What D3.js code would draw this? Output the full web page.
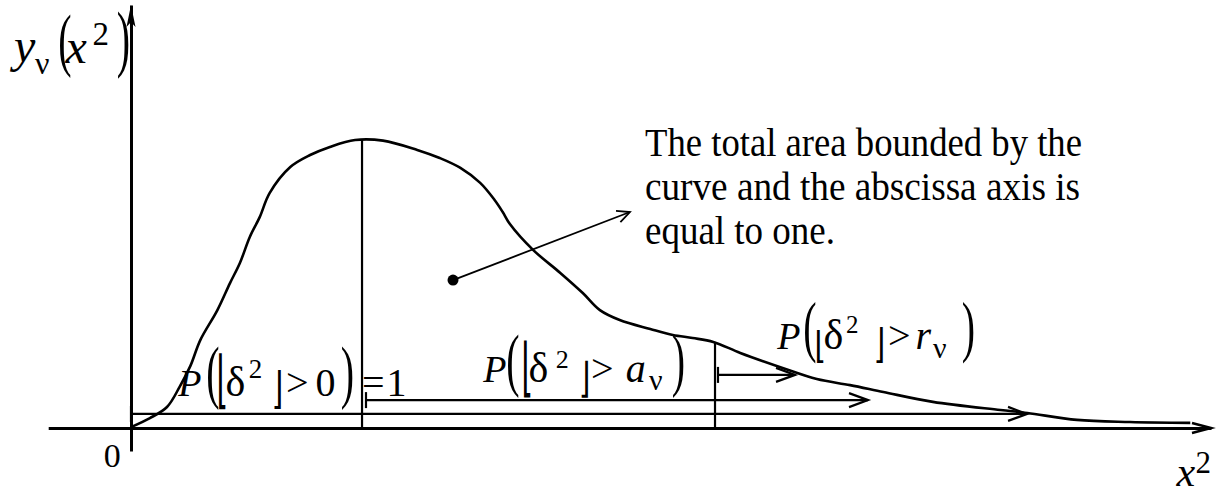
<!DOCTYPE html>
<html><head><meta charset="utf-8">
<script src="https://cdn.jsdelivr.net/npm/d3@7"></script>
<style>body{margin:0;background:#fff} svg{display:block}</style>
</head><body>
<svg id="chart" width="1216" height="488"></svg>
<script>
// ---- data (abscissa in chart units, ordinate = density height) ----
const curveX = [0.00,0.21,0.40,0.54,0.66,0.77,0.96,1.10,1.21,1.32,1.43,1.54,1.77,1.99,2.21,2.49,2.80,3.18,3.43,3.66,3.88,4.04,4.13,4.21,4.47,4.77,5.02,5.21,5.43,5.77,6.02,6.24,6.47,6.77,7.24,7.62,7.99,8.36,8.91,9.66,9.96,10.51,11.10,11.77];
const curveY = [0.003,0.033,0.070,0.137,0.207,0.293,0.393,0.483,0.550,0.637,0.703,0.783,0.870,0.910,0.937,0.960,0.958,0.927,0.900,0.867,0.817,0.760,0.720,0.680,0.593,0.517,0.450,0.393,0.360,0.330,0.310,0.300,0.287,0.250,0.200,0.163,0.143,0.120,0.087,0.060,0.050,0.027,0.020,0.017];
const markerX = [2.567, 6.489];
const markerTop = [0.963, 0.287];
const arrowStart = [0, 2.611, 6.522];
const arrowEnd = [9.956, 8.189, 7.378];
const arrowLevel = [0.047, 0.093, 0.177];
const dotPoint = [3.578, 0.493];
const leaderEnd = [5.544, 0.72];
const noteLines = ["The total area bounded by the", "curve and the abscissa axis is", "equal to one."];
const originLabel = "0";

const x = d3.scaleLinear().domain([0, 12]).range([131, 1211]);
const y = d3.scaleLinear().domain([0, 1]).range([428, 128]);

const svg = d3.select("#chart");
const ink = "#000";
const serif = "'Liberation Serif','Times New Roman',serif";
const bracketFont = "'DejaVu Sans',sans-serif";

// axes
const xAxisExtent = [-0.92, 12];
const yAxisExtent = [-0.077, 1.41];
const xAxisScale = d3.scaleLinear().domain(xAxisExtent).range(xAxisExtent.map(x));
const yAxisScale = d3.scaleLinear().domain(yAxisExtent).range(yAxisExtent.map(y));
const gx = svg.append("g").attr("transform", `translate(0,${y(0)})`)
  .call(d3.axisBottom(xAxisScale).tickValues([]).tickSizeOuter(0));
gx.select(".domain").attr("stroke", ink).attr("stroke-width", 3);
const gy = svg.append("g").attr("transform", `translate(${x(0)},0)`)
  .call(d3.axisLeft(yAxisScale).tickValues([]).tickSizeOuter(0));
gy.select(".domain").attr("stroke", ink).attr("stroke-width", 3);

// axis arrowheads
const yTip = y(yAxisExtent[1]), x0 = x(0);
svg.append("path").attr("d", `M${x0},${yTip} L${x0-4.5},${yTip+22} L${x0},${yTip+17} L${x0+4.5},${yTip+22} Z`).attr("fill", ink);
const xTip = x(xAxisExtent[1]), y0 = y(0);
svg.append("path").attr("d", `M${xTip-19},${y0-5} L${xTip},${y0} L${xTip-19},${y0+5}`)
  .attr("fill", "none").attr("stroke", ink).attr("stroke-width", 2.5);

// curve
const pts = curveX.map((v, i) => [v, curveY[i]]);
svg.append("path").datum(pts)
  .attr("d", d3.line().x(d => x(d[0])).y(d => y(d[1])).curve(d3.curveCatmullRom.alpha(0.5)))
  .attr("fill", "none").attr("stroke", ink).attr("stroke-width", 2.6).attr("stroke-linejoin", "round");

// vertical markers
svg.selectAll("line.marker").data(markerX).join("line").attr("class", "marker")
  .attr("x1", d => x(d)).attr("x2", d => x(d))
  .attr("y1", (d, i) => y(markerTop[i])).attr("y2", y(0))
  .attr("stroke", ink).attr("stroke-width", 2.2);

// horizontal probability arrows
const arrows = arrowStart.map((s, i) => ({ s, e: arrowEnd[i], l: arrowLevel[i] }));
const ag = svg.append("g").attr("stroke", ink).attr("fill", "none").attr("stroke-width", 2.2);
ag.selectAll("line.shaft").data(arrows).join("line").attr("class", "shaft")
  .attr("x1", d => x(d.s)).attr("x2", d => x(d.e)).attr("y1", d => y(d.l)).attr("y2", d => y(d.l));
ag.selectAll("line.tick").data(arrows).join("line").attr("class", "tick")
  .attr("x1", d => x(d.s)).attr("x2", d => x(d.s)).attr("y1", d => y(d.l) - 8).attr("y2", d => y(d.l) + 8);
ag.selectAll("path.head").data(arrows).join("path").attr("class", "head")
  .attr("d", d => `M${x(d.e)-19},${y(d.l)-7} L${x(d.e)},${y(d.l)} L${x(d.e)-19},${y(d.l)+7}`);

// leader with dot
svg.append("circle").attr("cx", x(dotPoint[0])).attr("cy", y(dotPoint[1])).attr("r", 5.5).attr("fill", ink);
svg.append("line").attr("x1", x(dotPoint[0])).attr("y1", y(dotPoint[1]))
  .attr("x2", x(leaderEnd[0])).attr("y2", y(leaderEnd[1])).attr("stroke", ink).attr("stroke-width", 1.8);
{
  const ex = x(leaderEnd[0]), ey = y(leaderEnd[1]);
  const ang = Math.atan2(ey - y(dotPoint[1]), ex - x(dotPoint[0]));
  const L = 14, a = 0.45;
  svg.append("path").attr("d",
    `M${ex - L*Math.cos(ang - a)},${ey - L*Math.sin(ang - a)} L${ex},${ey} L${ex - L*Math.cos(ang + a)},${ey - L*Math.sin(ang + a)}`)
    .attr("fill", "none").attr("stroke", ink).attr("stroke-width", 1.8);
}

// note text
const noteWidths = [437, 435, 190];
svg.append("g").selectAll("text").data(noteLines).join("text")
  .attr("x", 645).attr("y", (d, i) => 156 + i * 44)
  .attr("font-family", serif).attr("font-size", 40)
  .attr("textLength", (d, i) => noteWidths[i]).attr("lengthAdjust", "spacingAndGlyphs")
  .attr("fill", ink).text(d => d);

// ---- math labels, positioned by glyph ink edges (measured by scanning a canvas) ----
const cv = document.createElement("canvas");
cv.width = 400; cv.height = 400;
const ctx = cv.getContext("2d", { willReadFrequently: true });
const inkCache = {};
function inkBox(t, font, it) {
  const key = t + "|" + font + "|" + it;
  if (inkCache[key]) return inkCache[key];
  const S = 200, ox = 100, oy = 300;
  ctx.clearRect(0, 0, 400, 400);
  ctx.font = `${it ? "italic " : ""}${S}px ${font}`;
  ctx.fillStyle = "#000";
  ctx.fillText(t, ox, oy);
  const data = ctx.getImageData(0, 0, 400, 400).data;
  let minX = 400, maxX = -1, minY = 400, maxY = -1;
  for (let py = 0; py < 400; py++) for (let px = 0; px < 400; px++) {
    if (data[(py * 400 + px) * 4 + 3] > 100) {
      if (px < minX) minX = px; if (px > maxX) maxX = px;
      if (py < minY) minY = py; if (py > maxY) maxY = py;
    }
  }
  const box = { left: (minX - ox) / S, right: (maxX + 1 - ox) / S, top: (oy - minY) / S, bottom: (maxY + 1 - oy) / S };
  inkCache[key] = box;
  return box;
}
// glyph whose ink-left edge sits at inkX, on a baseline
function glyph(g, t, inkX, base, size, it) {
  const b = inkBox(t, serif, it);
  g.append("text").attr("x", inkX - b.left * size).attr("y", base)
    .attr("font-family", serif).attr("font-size", size)
    .attr("font-style", it ? "italic" : "normal").attr("fill", ink).text(t);
}
// vertically stretched glyph fitted between ink top/bottom; edge "l": inkX = left ink, "r": inkX = right ink
function tall(g, t, inkX, top, bottom, size, font, edge) {
  const b = inkBox(t, font, 0);
  const h = (b.top + b.bottom) * size;
  const sy = (bottom - top) / h;
  const by = top + b.top * size * sy;
  const tx = edge === "r" ? inkX - b.right * size : inkX - b.left * size;
  g.append("text").attr("transform", `translate(${tx},${by}) scale(1,${sy})`)
    .attr("font-family", font).attr("font-size", size).attr("fill", ink).text(t);
}
const paren = (g, t, inkX, top, bottom) => tall(g, t, inkX, top, bottom, 40, serif, "l");
const brackL = (g, inkX, top, bottom) => tall(g, "⌊", inkX - 1, top, bottom, 30, bracketFont, "l");
const brackR = (g, inkX, top, bottom) => tall(g, "⌋", inkX + 1, top, bottom, 30, bracketFont, "r");

function probLabel(b, xs, par, bl, br, sq, rhs) {
  const g = svg.append("g");
  glyph(g, "P", xs.P, b, 38, 1);
  paren(g, "(", xs.lp, par[0], par[1]);
  brackL(g, xs.lb, bl[0], bl[1]);
  glyph(g, "δ", xs.d, b, 42, 0);
  glyph(g, "2", xs.sq, sq[0], sq[1], 0);
  brackR(g, xs.rb, br[0], br[1]);
  glyph(g, ">", xs.gt, b, 40, 0);
  rhs.forEach(p => glyph(g, p[0], p[1], p[2], p[3], p[4]));
  paren(g, ")", xs.rp, par[0], par[1]);
}
probLabel(396, {P:178, lp:208, lb:220, d:227, sq:250, rb:280, gt:288, rp:342}, [347, 409], [353, 409], [370, 409], [378, 27],
  [["0", 317, 396, 40, 0], ["=", 364, 396, 40, 0], ["1", 390, 396, 40, 0]]);
probLabel(382, {P:483, lp:508, lb:525, d:530, sq:557, rb:587, gt:593, rp:673}, [335, 397], [340, 397], [360, 397], [368, 26],
  [["a", 627, 382, 40, 1], ["ν", 649, 390, 30, 0]]);
probLabel(349, {P:777, lp:805, lb:818, d:825, sq:847, rb:882, gt:890, rp:963}, [303, 363], [330, 363], [327, 363], [333, 25],
  [["r", 917, 349, 40, 1], ["ν", 933, 358, 30, 0]]);

// y-axis label y_ν(x²)
{
  const g = svg.append("g");
  glyph(g, "y", 10, 62, 48, 1);
  glyph(g, "ν", 35, 74, 32, 0);
  paren(g, "(", 60, 15, 78);
  glyph(g, "x", 65, 63, 48, 1);
  glyph(g, "2", 94, 45, 33, 0);
  paren(g, ")", 118, 12, 78);
}
// x-axis label x²
{
  const g = svg.append("g");
  glyph(g, "x", 1176, 486, 42, 1);
  glyph(g, "2", 1197, 473, 31, 0);
}
glyph(svg, originLabel, 105, 467, 34, 0);
</script>
</body></html>
